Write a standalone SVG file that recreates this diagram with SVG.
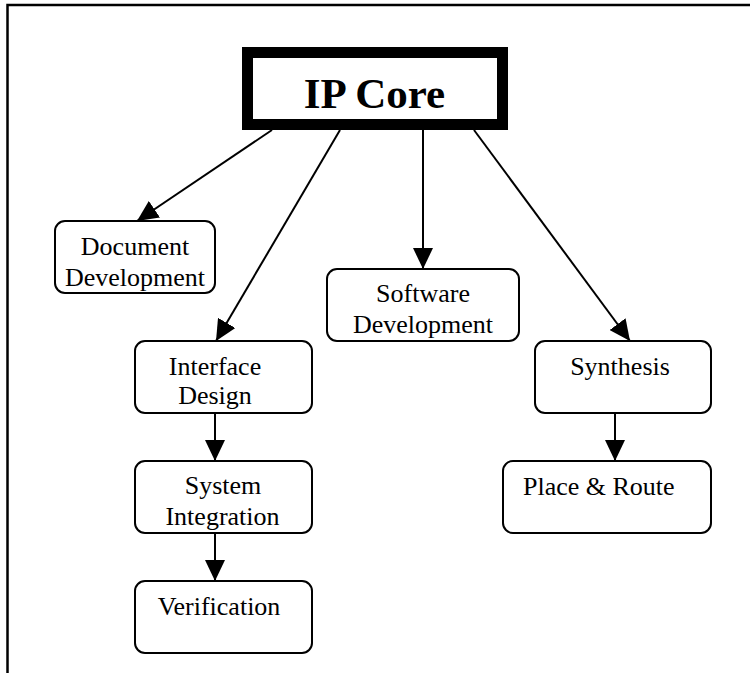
<svg xmlns="http://www.w3.org/2000/svg" width="750" height="673" viewBox="0 0 750 673">
<style>
.box{fill:#fff;stroke:#000;stroke-width:2}
.lbl{font-family:"Liberation Serif","Times New Roman",serif;font-size:26px;fill:#000;text-anchor:middle}
.edge{stroke:#000;stroke-width:2;fill:none;marker-end:url(#ah)}
</style>
<defs>
<marker id="ah" viewBox="0 0 21 20" refX="21" refY="10" markerWidth="21" markerHeight="20" orient="auto" markerUnits="userSpaceOnUse">
<path d="M0,0 L21,10 L0,20 z" fill="#000"/>
</marker>
</defs>
<rect width="750" height="673" fill="#fff"/>
<path d="M7.5,673 V5 H750" fill="none" stroke="#000" stroke-width="2.5"/>
<g id="connectors">
<line class="edge" x1="272" y1="130" x2="137" y2="221"/>
<line class="edge" x1="340" y1="130" x2="216" y2="341"/>
<line class="edge" x1="423" y1="130" x2="423" y2="269"/>
<line class="edge" x1="474" y1="130" x2="630" y2="341"/>
<line class="edge" x1="215" y1="413" x2="215" y2="461"/>
<line class="edge" x1="215" y1="533" x2="215" y2="581"/>
<line class="edge" x1="615" y1="413" x2="615" y2="461"/>
</g>
<g id="ipcore">
<rect x="247.5" y="52.5" width="255" height="72" fill="#fff" stroke="#000" stroke-width="11"/>
<text x="374.5" y="108" font-family="Liberation Serif,'Times New Roman',serif" font-weight="bold" font-size="43" text-anchor="middle">IP Core</text>
</g>
<g id="document">
<rect class="box" x="55" y="221" width="160" height="72" rx="10"/>
<text class="lbl" x="135" y="255">Document</text>
<text class="lbl" x="135" y="286">Development</text>
</g>
<g id="software">
<rect class="box" x="327" y="269" width="192" height="72" rx="10"/>
<text class="lbl" x="423" y="302">Software</text>
<text class="lbl" x="423" y="333">Development</text>
</g>
<g id="interface">
<rect class="box" x="135" y="341" width="177" height="72" rx="10"/>
<text class="lbl" x="215" y="375">Interface</text>
<text class="lbl" x="215" y="404">Design</text>
</g>
<g id="synthesis">
<rect class="box" x="535" y="341" width="176" height="72" rx="10"/>
<text class="lbl" x="620" y="375">Synthesis</text>
</g>
<g id="sysint">
<rect class="box" x="135" y="461" width="177" height="72" rx="10"/>
<text class="lbl" x="223" y="494">System</text>
<text class="lbl" x="222.5" y="525">Integration</text>
</g>
<g id="placeroute">
<rect class="box" x="503" y="461" width="208" height="72" rx="10"/>
<text class="lbl" x="523" y="495" style="text-anchor:start">Place &amp; Route</text>
</g>
<g id="verification">
<rect class="box" x="135" y="581" width="177" height="72" rx="10"/>
<text class="lbl" x="219" y="615">Verification</text>
</g>
</svg>
